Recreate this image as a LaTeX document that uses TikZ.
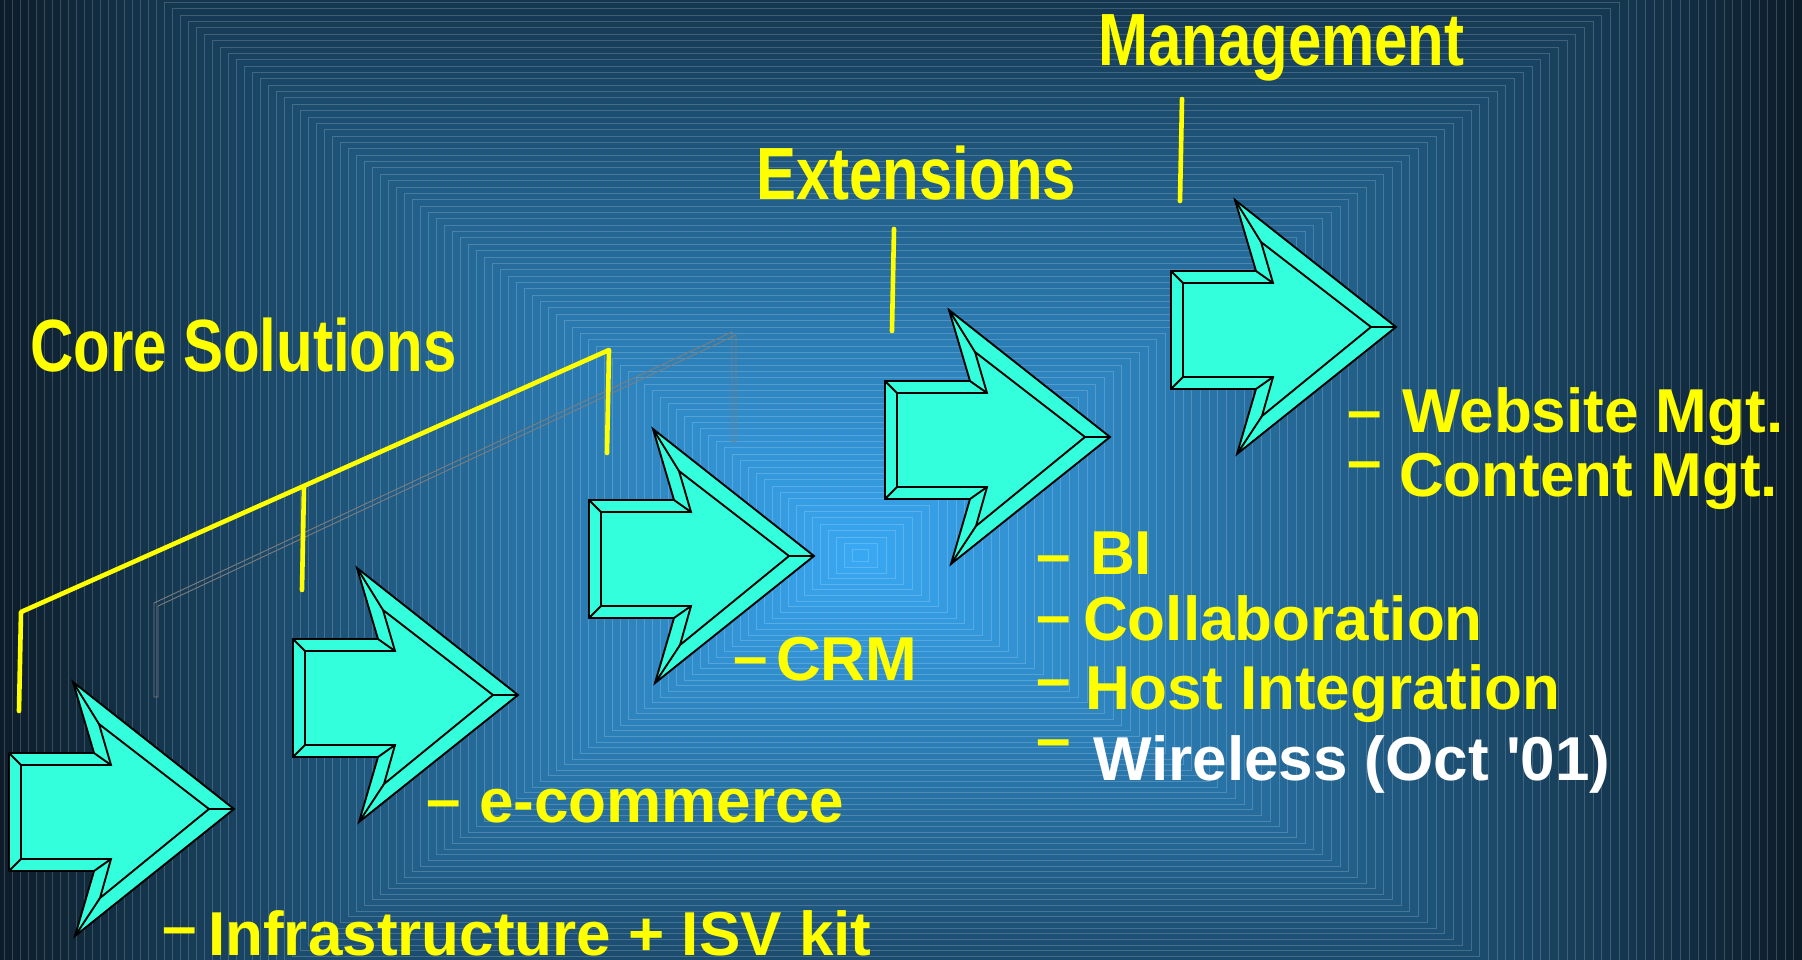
\documentclass[tikz,border=0pt]{standalone}
\usepackage{fontspec}
\setmainfont{Liberation Sans}[Ligatures=TeXOff]
\usepackage{graphicx}
\definecolor{ylw}{RGB}{255,255,0}
\definecolor{aqua}{RGB}{51,255,221}
\definecolor{gry}{RGB}{125,125,125}
\definecolor{bgedge}{RGB}{12,26,38}
\tikzset{
  head/.style={text=ylw, font=\fontsize{74}{80}\selectfont\bfseries, inner sep=0pt, anchor=base west},
  item/.style={text=ylw, font=\fontsize{62}{70}\selectfont\bfseries, inner sep=0pt, anchor=base west},
  whiteitem/.style={item, text=white},
  yline/.style={draw=ylw, line width=4.6, line cap=round, line join=round},
  gline/.style={draw=gry, line width=0.9},
  arrowface/.style={fill=aqua, draw=black, line width=1.9, line join=miter},
  arrowline/.style={draw=black, line width=1.9, line join=miter},
}
\newcommand\bevelarrow[3]{%
  \begin{scope}[shift={(#2,#3)}]
    \coordinate (#1) at (0,0);
    \filldraw[arrowface] (0,-56) -- (85,-56) -- (64,-127) -- (225,0) -- (66,127) -- (85,62) -- (0,62) -- cycle;
    \draw[arrowline] (12,-44) -- (102,-44) -- (90,-85) -- (200,0) -- (91,89) -- (102,50) -- (12,50) -- cycle;
    \draw[arrowline] (0,-56) -- (12,-44) (85,-56) -- (102,-44) (64,-127) -- (90,-85)
      (225,0) -- (200,0) (66,127) -- (91,89) (85,62) -- (102,50) (0,62) -- (12,50);
  \end{scope}}
\newcommand\hd[1]{\scalebox{0.81}[1]{#1}}
\begin{document}
\begin{tikzpicture}[x=1pt,y=-1pt]
\useasboundingbox (0,0) rectangle (1802,959);
% background: rectangular gradient with fine ring lines
\begin{scope}
  \clip (0,0) rectangle (1802,959);
  \fill[bgedge] (0,0) rectangle (1802,959);
  \foreach \i in {0,...,109}{
    \pgfmathsetmacro{\t}{1-\i/110}
    \pgfmathtruncatemacro{\r}{58-46*\t}
    \pgfmathtruncatemacro{\g}{170-144*\t}
    \pgfmathtruncatemacro{\b}{245-207*\t}
    \pgfmathtruncatemacro{\lr}{\r+(255-\r)*0.18}
    \pgfmathtruncatemacro{\lg}{\g+(255-\g)*0.18}
    \pgfmathtruncatemacro{\lb}{\b+(255-\b)*0.18}
    \filldraw[fill={rgb,255:red,\r;green,\g;blue,\b}, draw={rgb,255:red,\lr;green,\lg;blue,\lb}, line width=0.7]
      ({860-880*\t},{556-700*\t}) rectangle ({860+960*\t},{556+620*\t});
  }
\end{scope}

% grey shadow of the bracket
\draw[gline] (154,697) -- (154,603) -- (732,332) -- (732,442) -- (736,442) -- (736,335) -- (158,606) -- (158,697) -- cycle;

% yellow bracket lines
\coordinate (b1) at (19,711);
\coordinate (b2) at (21,612);
\coordinate (b3) at (609,350);
\coordinate (b4) at (607,453);
\coordinate (m1) at (304,486);
\coordinate (m2) at (302,590);
\coordinate (e1) at (894,229);
\coordinate (e2) at (892,331);
\coordinate (g1) at (1182,99);
\coordinate (g2) at (1180,201);
\draw[yline] (b1) -- (b2) -- (b3) -- (b4);
\draw[yline] (m1) -- (m2);
\draw[yline] (e1) -- (e2);
\draw[yline] (g1) -- (g2);

% arrows
\bevelarrow{a1}{9}{809}
\bevelarrow{a2}{293}{695}
\bevelarrow{a3}{589}{556}
\bevelarrow{a4}{885}{437}
\bevelarrow{a5}{1171}{327}

% headings
\node[head] (core) at (30,371) {\hd{Core Solutions}};
\node[head] (ext) at (756,199) {\hd{Extensions}};
\node[head] (mgmt) at (1098,65) {\hd{Management}};

% bullets
\node[item] (d1) at (162,947) {–};
\node[item] (d2) at (426,820) {–};
\node[item] (d3) at (733,677) {–};
\node[item] (d4) at (1036,575) {–};
\node[item] (d5) at (1036,636) {–};
\node[item] (d6) at (1036,699) {–};
\node[item] (d7) at (1036,759) {–};
\node[item] (d8) at (1347,431) {–};
\node[item] (d9) at (1347,481) {–};

% items
\node[item] (infra) at (208,955) {Infrastructure + ISV kit};
\node[item] (ecom) at (479,822) {e-commerce};
\node[item] (crm) at (776,680) {CRM};
\node[item] (bi) at (1090,574) {BI};
\node[item] (collab) at (1083,640) {Collaboration};
\node[item] (host) at (1085,709) {Host Integration};
\node[whiteitem] (wire) at (1093,780) {Wireless (Oct '01)};
\node[item] (web) at (1402,432) {Website Mgt.};
\node[item] (cont) at (1399,496) {Content Mgt.};
\end{tikzpicture}
\end{document}
